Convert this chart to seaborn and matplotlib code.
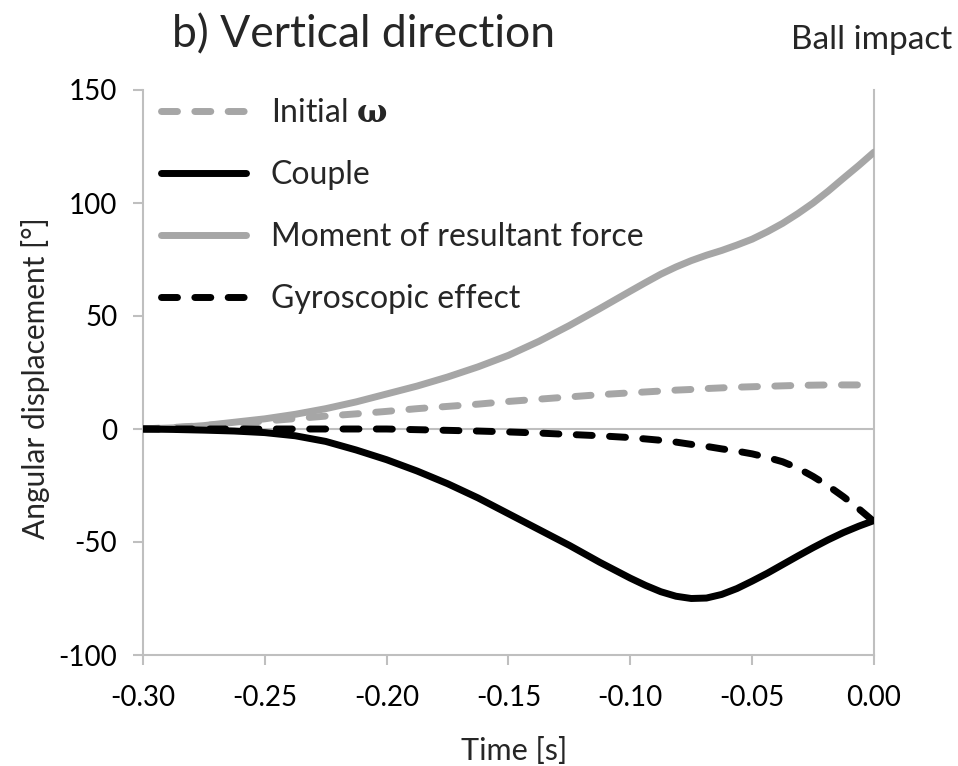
import numpy as np
import pandas as pd
import matplotlib
matplotlib.use("Agg")
import matplotlib.pyplot as plt
import seaborn as sns

# ---- data ----
time_s = [-0.300, -0.2875, -0.275, -0.2625, -0.250, -0.2375, -0.225, -0.2125,
          -0.200, -0.1875, -0.175, -0.1625, -0.150, -0.1375, -0.125, -0.1125,
          -0.100, -0.09375, -0.0875, -0.08125, -0.075, -0.06875, -0.0625,
          -0.05625, -0.050, -0.04375, -0.0375, -0.03125, -0.025, -0.01875,
          -0.0125, -0.00625, 0.0]

initial_omega = [0, 0.7, 1.5, 2.5, 3.5, 4.6, 5.7, 6.7,
                 7.8, 9.0, 10.0, 11.0, 12.2, 13.2, 14.2, 15.2,
                 16.0, 16.4, 16.8, 17.2, 17.5, 17.9, 18.2,
                 18.5, 18.7, 18.9, 19.1, 19.3, 19.4, 19.5,
                 19.5, 19.5, 19.5]

couple = [0, -0.2, -0.5, -0.9, -1.6, -3.0, -5.5, -9.3,
          -13.6, -18.6, -24.2, -30.5, -37.5, -44.5, -51.5, -59.0,
          -66.0, -69.2, -72.0, -74.0, -75.0, -74.8, -73.2,
          -70.6, -67.3, -63.8, -60.0, -56.2, -52.5, -49.0,
          -45.8, -43.0, -40.5]

moment_resultant = [0, 0.5, 1.5, 3.0, 4.5, 6.5, 9.0, 12.0,
                    15.5, 19.0, 23.0, 27.5, 32.6, 38.8, 45.8, 53.3,
                    61.0, 64.8, 68.5, 71.7, 74.5, 76.9, 79.0,
                    81.4, 84.0, 87.3, 91.0, 95.3, 100.0, 105.3,
                    111.0, 116.6, 122.5]

gyroscopic = [0, 0, 0, 0, 0, 0, 0, 0,
              0, -0.3, -0.6, -0.9, -1.3, -1.8, -2.4, -3.0,
              -3.8, -4.4, -5.0, -5.8, -6.8, -7.7, -8.8,
              -9.8, -11.0, -12.6, -14.5, -17.3, -21.0, -25.2,
              -30.0, -35.3, -41.0]

x_ticks = [-0.30, -0.25, -0.20, -0.15, -0.10, -0.05, 0.00]
y_ticks = [-100, -50, 0, 50, 100, 150]

labels = ["Initial $\\mathbf{\\omega}$", "Couple",
          "Moment of resultant force", "Gyroscopic effect"]

# ---- style ----
sns.set_theme(style="white")
plt.rcParams["font.family"] = ["Lato", "DejaVu Sans"]
plt.rcParams["mathtext.fontset"] = "dejavuserif"
plt.rcParams["lines.scale_dashes"] = False

GRAY = "#A6A6A6"
AXIS = "#BFBFBF"
LW = 5.0
DASH = (0, (11.5, 12.5))

fig = plt.figure(figsize=(9.58, 7.66), dpi=100)
ax = fig.add_axes([143 / 958, 1 - 655 / 766, (874 - 143) / 958, (655 - 90) / 766])

df = pd.DataFrame({"t": time_s, "omega": initial_omega, "couple": couple,
                   "moment": moment_resultant, "gyro": gyroscopic})

ax.axhline(0, color=AXIS, lw=1.5, zorder=1)

sns.lineplot(data=df, x="t", y="omega", ax=ax, color=GRAY, lw=LW,
             linestyle=DASH, dash_capstyle="round", dash_joinstyle="round", zorder=3)
sns.lineplot(data=df, x="t", y="moment", ax=ax, color=GRAY, lw=LW,
             solid_capstyle="round", solid_joinstyle="round", zorder=3)
sns.lineplot(data=df, x="t", y="couple", ax=ax, color="black", lw=LW,
             solid_capstyle="round", solid_joinstyle="round", zorder=4)
sns.lineplot(data=df, x="t", y="gyro", ax=ax, color="black", lw=LW,
             linestyle=DASH, dash_capstyle="round", dash_joinstyle="round", zorder=5)

lines = ax.get_lines()
h_omega, h_moment, h_couple, h_gyro = lines[1], lines[2], lines[3], lines[4]

ax.set_xlim(-0.30, 0.0)
ax.set_ylim(-100, 150)
ax.set_xticks(x_ticks)
ax.set_xticklabels([f"{v:.2f}" for v in x_ticks])
ax.set_yticks(y_ticks)
ax.set_yticklabels([str(v) for v in y_ticks])

for s in ["left", "bottom", "right"]:
    ax.spines[s].set_visible(True)
    ax.spines[s].set_color(AXIS)
    ax.spines[s].set_linewidth(1.5)
ax.spines["top"].set_visible(False)
ax.tick_params(axis="both", which="major", direction="out", length=7.5, width=1.5,
               color=AXIS, labelsize=20, labelcolor="black",
               bottom=True, left=True)
ax.tick_params(axis="x", pad=14)
ax.tick_params(axis="y", pad=11)
ax.set_xlabel("Time [s]", fontsize=22, va="top")
ax.set_ylabel("Angular displacement [°]", fontsize=21.5)
ax.xaxis.set_label_coords(0.508, -0.145)
ax.yaxis.set_label_coords(-0.127, 0.49)
ax.grid(False)

leg = ax.legend([h_omega, h_couple, h_moment, h_gyro], labels,
                loc="upper left", bbox_to_anchor=(0.0135, 1.0), frameon=False,
                fontsize=23, handlelength=2.66, handletextpad=0.78,
                labelspacing=1.0, borderaxespad=0.0, borderpad=0.25)

fig.text(363 / 958, 1 - 35 / 766, "b) Vertical direction", fontsize=32,
         ha="center", va="center")
fig.text(952 / 958, 1 - 40 / 766, "Ball impact", fontsize=24,
         ha="right", va="center")

fig.savefig("out.png", dpi=100, facecolor="white")
